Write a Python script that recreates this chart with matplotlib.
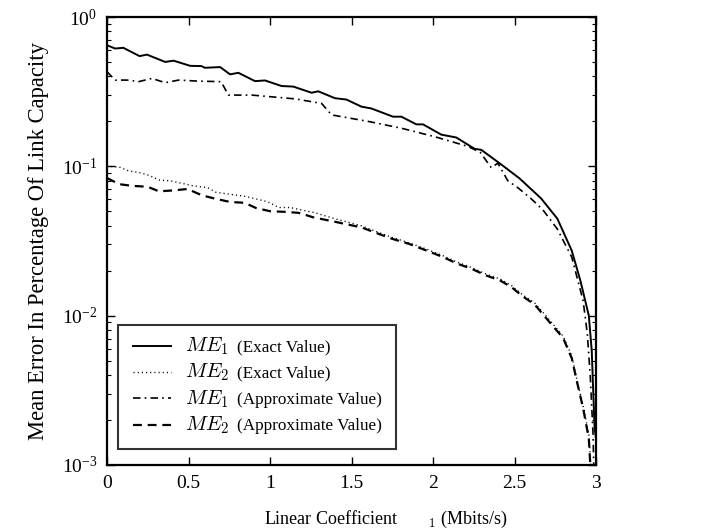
import matplotlib
matplotlib.use("Agg")
import matplotlib.pyplot as plt
from matplotlib.lines import Line2D
from matplotlib.text import Text
from matplotlib.ticker import LogLocator, FixedLocator, NullLocator

plt.rcParams['font.family'] = ['Liberation Serif', 'DejaVu Serif']
plt.rcParams['mathtext.fontset'] = 'cm'
plt.rcParams['axes.unicode_minus'] = False

# ---- data ----
x_me1_exact = [0.00, 0.05, 0.10, 0.20, 0.245, 0.357, 0.408, 0.51, 0.58, 0.60, 0.694, 0.755,
               0.806, 0.908, 0.969, 1.071, 1.143, 1.255, 1.296, 1.398, 1.469, 1.561, 1.622,
               1.755, 1.806, 1.898, 1.939, 2.051, 2.143, 2.255, 2.296, 2.418, 2.531, 2.663,
               2.763, 2.851, 2.904, 2.956, 2.974, 2.991, 3.000]
y_me1_exact = [0.647, 0.615, 0.622, 0.547, 0.560, 0.500, 0.510, 0.471, 0.469, 0.457, 0.462, 0.413,
               0.423, 0.372, 0.376, 0.345, 0.342, 0.311, 0.318, 0.286, 0.280, 0.251, 0.244,
               0.215, 0.215, 0.191, 0.191, 0.163, 0.156, 0.131, 0.129, 0.103, 0.083, 0.061,
               0.0446, 0.0273, 0.0172, 0.0100, 0.0058, 0.0018, 0.0015]

x_me2_exact = [0.00, 0.074, 0.135, 0.197, 0.258, 0.319, 0.389, 0.459, 0.529, 0.617, 0.669, 0.757,
               0.844, 0.914, 0.984, 1.054, 1.124, 1.194, 1.273, 1.40, 1.561, 1.64, 1.746, 1.851,
               1.956, 2.061, 2.149, 2.237, 2.325, 2.412, 2.482, 2.553, 2.623, 2.728, 2.798, 2.851,
               2.886, 2.921, 2.956, 2.968]
y_me2_exact = [0.100, 0.099, 0.093, 0.091, 0.087, 0.081, 0.080, 0.077, 0.074, 0.072, 0.067, 0.065,
               0.063, 0.0605, 0.058, 0.053, 0.053, 0.051, 0.049, 0.0445, 0.0400, 0.0370, 0.0335,
               0.0308, 0.0280, 0.0252, 0.0228, 0.0210, 0.0190, 0.0176, 0.0159, 0.0137, 0.0122,
               0.0090, 0.0073, 0.0054, 0.0036, 0.0025, 0.0016, 0.001]

x_me1_approx = [0.00, 0.05, 0.133, 0.194, 0.276, 0.357, 0.439, 0.561, 0.70, 0.745, 0.888, 1.153,
                1.316, 1.378, 1.602, 1.806, 2.010, 2.214, 2.29, 2.357, 2.398, 2.459, 2.52, 2.60,
                2.675, 2.763, 2.851, 2.921, 2.947, 2.965, 2.982, 2.986]
y_me1_approx = [0.430, 0.378, 0.378, 0.369, 0.388, 0.363, 0.378, 0.372, 0.369, 0.300, 0.300, 0.283,
                0.264, 0.221, 0.200, 0.180, 0.158, 0.136, 0.124, 0.098, 0.105, 0.080, 0.072, 0.061,
                0.051, 0.038, 0.0247, 0.0126, 0.0075, 0.0039, 0.0016, 0.001]

x_me2_approx = [0.00, 0.074, 0.153, 0.249, 0.319, 0.407, 0.494, 0.582, 0.669, 0.757, 0.844, 0.914,
                1.002, 1.089, 1.177, 1.264, 1.40, 1.561, 1.64, 1.746, 1.851, 1.956, 2.061, 2.149,
                2.237, 2.325, 2.412, 2.482, 2.553, 2.623, 2.728, 2.798, 2.851, 2.886, 2.921, 2.956,
                2.965]
y_me2_approx = [0.0835, 0.076, 0.074, 0.073, 0.068, 0.069, 0.0705, 0.064, 0.0605, 0.0577, 0.057,
                0.0526, 0.050, 0.0496, 0.0488, 0.0456, 0.0425, 0.0390, 0.0362, 0.0328, 0.0303,
                0.0274, 0.0247, 0.0223, 0.0206, 0.0186, 0.0172, 0.0155, 0.0134, 0.0119, 0.0087,
                0.0071, 0.0052, 0.0035, 0.0024, 0.0015, 0.001]

series_names = [r'$ME_1$', r'$ME_2$', r'$ME_1$', r'$ME_2$']
series_kinds = ['(Exact Value)', '(Exact Value)', '(Approximate Value)', '(Approximate Value)']
x_ticks = [0, 0.5, 1, 1.5, 2, 2.5, 3]
x_tick_labels = ['0', '0.5', '1', '1.5', '2', '2.5', '3']


class LineWithName:
    """Legend handler: draws the line sample followed by the math name."""
    def __init__(self, name, line_pts=27.5, gap_pts=10.0, size=15):
        self.name = name
        self.line_pts = line_pts
        self.gap_pts = gap_pts
        self.size = size

    def legend_artist(self, legend, orig_handle, fontsize, handlebox):
        x0 = handlebox.xdescent
        ymid = 0.33 * fontsize
        ln = Line2D([x0, x0 + self.line_pts], [ymid, ymid])
        ln.set_color(orig_handle.get_color())
        ln.set_linewidth(orig_handle.get_linewidth())
        ln.set_linestyle(orig_handle.get_linestyle())
        pattern = orig_handle._unscaled_dash_pattern[1]
        if pattern:
            ln.set_dashes(pattern)
        handlebox.add_artist(ln)
        tx = Text(x0 + self.line_pts + self.gap_pts, 0, self.name, fontsize=self.size,
                  va='baseline', ha='left', color='black')
        handlebox.add_artist(tx)
        return ln


# ---- figure ----
fig = plt.figure(figsize=(7.12, 5.30), dpi=100)
ax = fig.add_axes([107/712, 1 - 465/530, (596 - 107)/712, (465 - 17)/530])

l1, = ax.plot(x_me1_exact, y_me1_exact, color='black', lw=1.4, linestyle='-')
l2, = ax.plot(x_me2_exact, y_me2_exact, color='black', lw=1.0, linestyle=(0, (0.8, 2.2)))
l3, = ax.plot(x_me1_approx, y_me1_approx, color='black', lw=1.2, linestyle=(0, (4.5, 2.5, 1.0, 2.5)))
l4, = ax.plot(x_me2_approx, y_me2_approx, color='black', lw=1.6, linestyle=(0, (4.0, 2.6)))
lines = [l1, l2, l3, l4]

ax.set_yscale('log')
ax.set_xlim(0, 3)
ax.set_ylim(1e-3, 1)
ax.xaxis.set_major_locator(FixedLocator(x_ticks))
ax.set_xticklabels(x_tick_labels)
ax.xaxis.set_minor_locator(NullLocator())
ax.yaxis.set_major_locator(LogLocator(base=10, numticks=10))
ax.yaxis.set_minor_locator(LogLocator(base=10, subs=range(2, 10), numticks=10))

ax.tick_params(axis='both', which='both', direction='in', top=True, right=True,
               labelsize=14, colors='black')
ax.tick_params(axis='both', which='major', length=6, width=1.0, pad=7)
ax.tick_params(axis='y', which='minor', length=3, width=0.8)
for s in ax.spines.values():
    s.set_linewidth(1.6)

ax.set_xlabel(r'Linear Coefficient       ${}_{1}$ (Mbits/s)', fontsize=13)
ax.xaxis.set_label_coords(0.5706, -0.098)
ax.set_ylabel('Mean Error In Percentage Of Link Capacity', fontsize=16.3, labelpad=9)

handler_map = {ln: LineWithName(nm) for ln, nm in zip(lines, series_names)}
leg = ax.legend(lines, series_kinds, handler_map=handler_map,
                loc='upper left', bbox_to_anchor=(0.0225, 0.3125), borderaxespad=0,
                fontsize=12.3, frameon=True, fancybox=False, edgecolor='black',
                handlelength=5.8, handletextpad=0.3, labelspacing=0.6, borderpad=0.85)
leg.get_frame().set_linewidth(1.5)

fig.savefig('out.png', dpi=100)
